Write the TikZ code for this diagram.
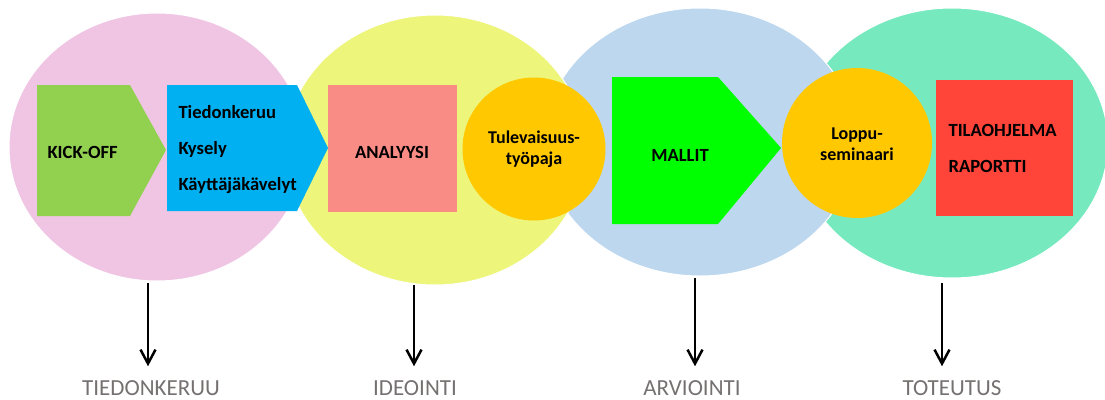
\documentclass[tikz,border=0pt]{standalone}
\usepackage{fontspec}
\setmainfont{Carlito}
\usetikzlibrary{shapes.geometric,arrows.meta}
\definecolor{pinkbg}{HTML}{F0C5E4}
\definecolor{yellowbg}{HTML}{EDF57B}
\definecolor{bluebg}{HTML}{BDD7EE}
\definecolor{greenbg}{HTML}{77E9BF}
\definecolor{kickgreen}{HTML}{92D050}
\definecolor{infoblue}{HTML}{00B0F0}
\definecolor{salmon}{HTML}{FA8C86}
\definecolor{sun}{HTML}{FFC800}
\definecolor{lime}{HTML}{00FF00}
\definecolor{tomato}{HTML}{FF443A}
\definecolor{phasegray}{HTML}{767171}
\tikzset{
  bubble/.style={ellipse, draw=white, line width=1pt, inner sep=0pt},
  spot/.style={circle, fill=sun, inner sep=0pt, minimum size=143pt},
  boxtext/.style={font=\bfseries\fontsize{18.6}{36}\selectfont, align=left},
  spottext/.style={font=\bfseries\fontsize{18}{21}\selectfont, align=center},
  phase/.style={font=\fontsize{23}{26}\selectfont, text=phasegray, inner sep=3pt},
  sketcharr/.style={line width=2pt, -{Straight Barb[length=14pt, width=15pt, line width=2.5pt]}, shorten >=11pt}
}
\begin{document}
\begin{tikzpicture}[x=1pt, y=-1pt]
\useasboundingbox (0,0) rectangle (1105,399);
\node[bubble, fill=greenbg, minimum width=312, minimum height=270] (toteutus) at (952,143){};
\node[bubble, fill=bluebg, minimum width=312, minimum height=268] (arviointi) at (700,142){};
\node[bubble, fill=yellowbg, minimum width=300, minimum height=270] (ideointi) at (435,150){};
\node[bubble, fill=pinkbg, minimum width=296, minimum height=268] (tiedonkeruu) at (157,147){};
\fill[kickgreen] (37,85) -- (130,85) -- (166,150) -- (130,216) -- (37,216) -- cycle;
\node[boxtext, anchor=west] (kickoff) at (44,152){KICK-OFF};
\fill[infoblue] (167,85) -- (297,85) -- (328,148) -- (297,211) -- (167,211) -- cycle;
\node[boxtext, anchor=west] (keruu) at (175,150){Tiedonkeruu\\Kysely\\Käyttäjäkävelyt};
\fill[salmon] (328,85) rectangle (457,212);
\node[boxtext, anchor=center] (analyysi) at (392,152){ANALYYSI};
\node[spot] (tyopaja) at (534,149){};
\node[spottext] at (tyopaja){Tulevaisuus-\\työpaja};
\fill[lime] (612,77) -- (718,77) -- (781,148) -- (718,224) -- (612,224) -- cycle;
\node[boxtext, anchor=center] (mallit) at (680,155){MALLIT};
\node[spot, minimum size=150pt] (seminaari) at (857,143){};
\node[spottext, yshift=-1pt] at (seminaari){Loppu-\\seminaari};
\fill[tomato] (936,80) rectangle (1073,216);
\node[boxtext, anchor=west] (tilaohjelma) at (945,148){TILAOHJELMA\\RAPORTTI};
\node[phase] (lab1) at (151,388){TIEDONKERUU};
\node[phase] (lab2) at (415,388){IDEOINTI};
\node[phase] (lab3) at (692,388){ARVIOINTI};
\node[phase] (lab4) at (952,388){TOTEUTUS};
\coordinate (t1) at (148,283);
\coordinate (t2) at (414,285);
\coordinate (t3) at (695,278);
\coordinate (t4) at (942,283);
\draw[sketcharr] (t1) -- (t1 |- lab1.north);
\draw[sketcharr] (t2) -- (t2 |- lab2.north);
\draw[sketcharr] (t3) -- (t3 |- lab3.north);
\draw[sketcharr] (t4) -- (t4 |- lab4.north);
\end{tikzpicture}
\end{document}
